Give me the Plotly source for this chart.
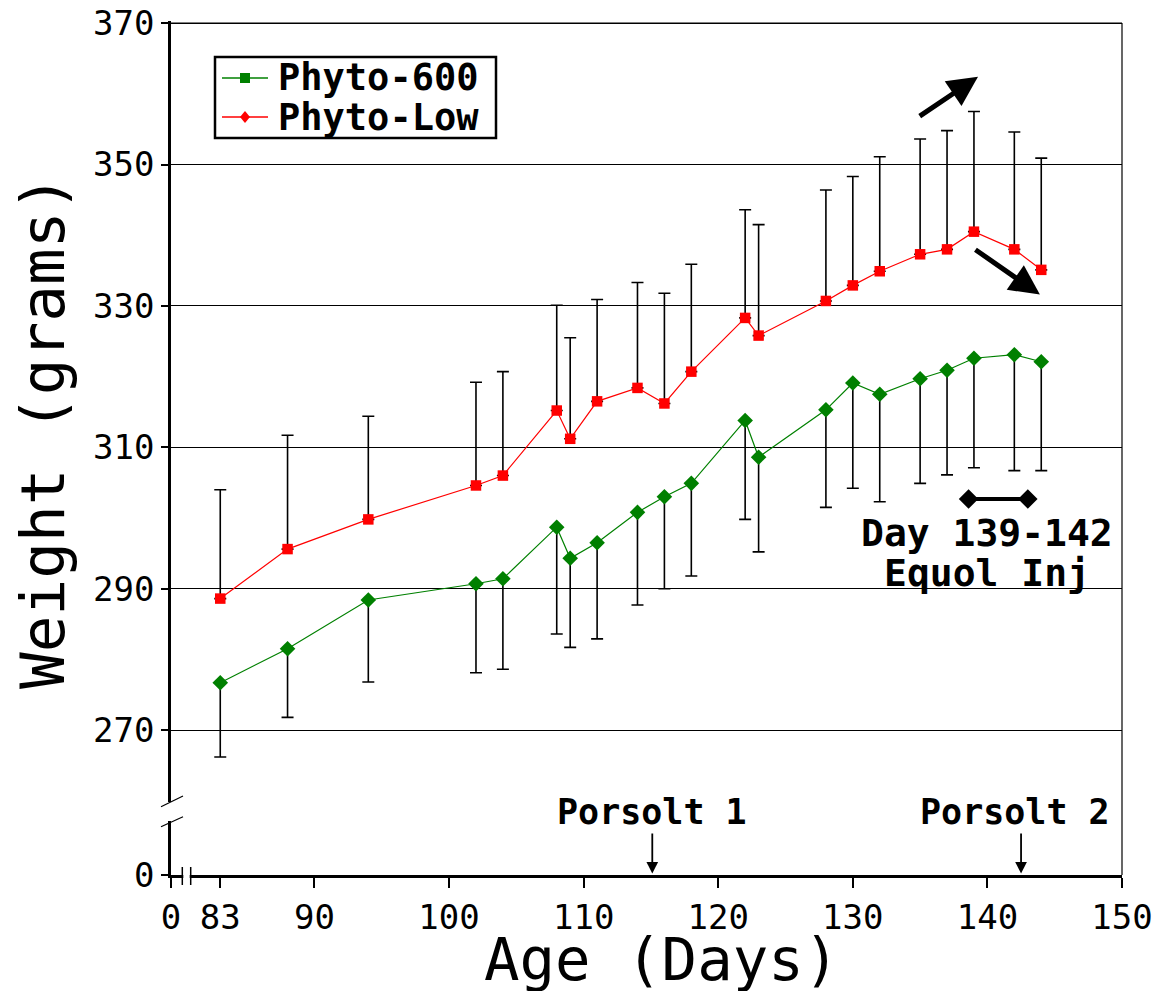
import plotly.graph_objects as go

# ---------------- data ----------------
days = [83, 88, 94, 102, 104, 108, 109, 111, 114, 116, 118, 122, 123,
        128, 130, 132, 135, 137, 139, 142, 144]

phyto_low_mean = [288.6, 295.6, 299.8, 304.6, 306.0, 315.2, 311.2, 316.5, 318.4,
                  316.2, 320.7, 328.3, 325.8, 330.7, 332.9, 334.9, 337.3, 338.0,
                  340.5, 338.0, 335.1]
phyto_low_upper = [304.0, 311.7, 314.4, 319.2, 320.7, 330.1, 325.5, 330.9, 333.3,
                   331.8, 335.9, 343.6, 341.5, 346.4, 348.3, 351.1, 353.6, 354.8,
                   357.5, 354.6, 350.9]

phyto_600_mean = [276.7, 281.5, 288.4, 290.7, 291.4, 298.7, 294.3, 296.5, 300.8,
                  303.0, 304.9, 313.8, 308.6, 315.3, 319.1, 317.5, 319.7, 320.9,
                  322.6, 323.1, 322.1]
phyto_600_lower = [266.2, 271.8, 276.8, 278.1, 278.6, 283.6, 281.7, 282.9, 287.7,
                   290.0, 291.8, 299.8, 295.2, 301.5, 304.2, 302.3, 304.9, 306.1,
                   307.1, 306.7, 306.7]

series_names = ["Phyto-600", "Phyto-Low"]

x_tick_vals = [79.34, 83, 90, 100, 110, 120, 130, 140, 150]
x_tick_text = ["0", "83", "90", "100", "110", "120", "130", "140", "150"]
y_tick_vals = [249.5, 270, 290, 310, 330, 350, 370]
y_tick_text = ["0", "270", "290", "310", "330", "350", "370"]

porsolt_days = [115.1, 142.5]
porsolt_labels = ["Porsolt 1", "Porsolt 2"]
porsolt_label_days = [115.1, 142.05]

equol_bar_days = [138.6, 143.0]
equol_bar_level = 302.7

# ---------------- layout helpers ----------------
# page body has an 8px margin, so figure coords = screenshot coords - 8
W, H = 1164, 991
L, R, T, B = 163, 50, 13, 124
X_RANGE = [79.34, 150]
Y_RANGE = [249.5, 370.3]
PLOT_LEFT_S, PLOT_BOTTOM_S = 171, 875  # plot area corners in screenshot px


def px(x):
    return (x - PLOT_LEFT_S) / (W - L - R)


def py(y):
    return (PLOT_BOTTOM_S - y) / (H - T - B)


MONO = "DejaVu Sans Mono"
GREEN = "#008000"
RED = "#ff0000"

fig = go.Figure()

# red series (squares, error bars up)
fig.add_trace(go.Scatter(
    x=days, y=phyto_low_mean, mode="lines+markers", name=series_names[1],
    showlegend=False,
    line=dict(color=RED, width=1.2),
    marker=dict(symbol="square", size=10.5, color=RED),
    error_y=dict(type="data", symmetric=False,
                 array=[u - m for u, m in zip(phyto_low_upper, phyto_low_mean)],
                 arrayminus=[0] * len(days),
                 color="black", thickness=1.6, width=6),
))

# green series (diamonds, error bars down)
fig.add_trace(go.Scatter(
    x=days, y=phyto_600_mean, mode="lines+markers", name=series_names[0],
    showlegend=False,
    line=dict(color=GREEN, width=1.2),
    marker=dict(symbol="diamond", size=12, color=GREEN),
    error_y=dict(type="data", symmetric=False,
                 array=[0] * len(days),
                 arrayminus=[m - l for m, l in zip(phyto_600_mean, phyto_600_lower)],
                 color="black", thickness=1.6, width=6),
))

# Equol injection bar
fig.add_trace(go.Scatter(
    x=equol_bar_days, y=[equol_bar_level] * 2, mode="lines+markers",
    showlegend=False, hoverinfo="skip",
    line=dict(color="black", width=4),
    marker=dict(symbol="diamond", size=15, color="black"),
))

annotations = []
# Porsolt labels and arrows
for d, ld, lab in zip(porsolt_days, porsolt_label_days, porsolt_labels):
    annotations.append(dict(
        x=ld, y=258.4, xref="x", yref="y", text=lab, showarrow=False,
        font=dict(family=MONO, size=35, color="black", weight="bold"),
        xanchor="center", yanchor="middle"))
    annotations.append(dict(
        x=d, y=249.7, xref="x", yref="y", ax=d, ay=255.6, axref="x", ayref="y",
        text="", showarrow=True, arrowhead=2, arrowsize=1.3, arrowwidth=1.8,
        arrowcolor="black", standoff=0))

# Thick trend arrows
annotations.append(dict(
    x=139.3, y=362.4, ax=134.86, ay=356.7, xref="x", yref="y", axref="x", ayref="y",
    text="", showarrow=True, arrowhead=2, arrowsize=1.2, arrowwidth=5,
    arrowcolor="black", standoff=0))
annotations.append(dict(
    x=143.9, y=331.6, ax=139.0, ay=338.1, xref="x", yref="y", axref="x", ayref="y",
    text="", showarrow=True, arrowhead=2, arrowsize=1.2, arrowwidth=5,
    arrowcolor="black", standoff=0))

# Equol text
annotations.append(dict(
    x=139.97, y=297.9, xref="x", yref="y", text="Day 139-142", showarrow=False,
    font=dict(family=MONO, size=38, color="black", weight="bold"),
    xanchor="center", yanchor="middle"))
annotations.append(dict(
    x=139.97, y=292.2, xref="x", yref="y", text="Equol Inj", showarrow=False,
    font=dict(family=MONO, size=38, color="black", weight="bold"),
    xanchor="center", yanchor="middle"))

# Axis titles
annotations.append(dict(
    x=px(661), y=py(959), xref="paper", yref="paper", text="Age (Days)",
    showarrow=False, font=dict(family=MONO, size=59, color="black"),
    xanchor="center", yanchor="middle", borderpad=0))
annotations.append(dict(
    x=px(42), y=py(432), xref="paper", yref="paper", text="Weight (grams)",
    showarrow=False, textangle=-90, font=dict(family=MONO, size=61, color="black"),
    xanchor="center", yanchor="middle"))

# Legend (drawn as in the reference: green square / red diamond)
leg_rows = [78, 117]
leg_colors = [GREEN, RED]
for row, name in zip(leg_rows, series_names):
    annotations.append(dict(
        x=px(276), y=py(row), xref="paper", yref="paper", text=name,
        showarrow=False, font=dict(family=MONO, size=37, color="black", weight="bold"),
        xanchor="left", yanchor="middle"))

shapes = [
    # top grid line at 370
    dict(type="line", xref="paper", yref="y", x0=0, x1=1, y0=370, y1=370,
         line=dict(color="black", width=1.2), layer="below"),
    # legend box
    dict(type="rect", xref="paper", yref="paper", x0=px(215), x1=px(496),
         y0=py(138), y1=py(57), fillcolor="white",
         line=dict(color="black", width=2.5), layer="above"),
]
for row, c in zip(leg_rows, leg_colors):
    shapes.append(dict(type="line", xref="paper", yref="paper",
                       x0=px(222), x1=px(268), y0=py(row), y1=py(row),
                       line=dict(color=c, width=1.5), layer="above"))
# legend markers: square for first row, diamond for second row
shapes.append(dict(type="rect", xref="paper", yref="paper",
                   x0=px(240), x1=px(250), y0=py(leg_rows[0] + 5), y1=py(leg_rows[0] - 5),
                   fillcolor=GREEN, line=dict(width=0), layer="above"))
r2 = leg_rows[1]
shapes.append(dict(type="path", xref="paper", yref="paper",
                   path=(f"M {px(245)} {py(r2 - 6)} L {px(250)} {py(r2)} "
                         f"L {px(245)} {py(r2 + 6)} L {px(240)} {py(r2)} Z"),
                   fillcolor=RED, line=dict(width=0), layer="above"))

shapes += [
    # right frame line
    dict(type="line", xref="paper", yref="paper", x0=1, x1=1, y0=0, y1=py(23),
         line=dict(color="black", width=1.2), layer="above"),
    # y axis break gap
    dict(type="rect", xref="paper", yref="paper", x0=px(164), x1=px(178),
         y0=py(821), y1=py(802), fillcolor="white", line=dict(width=0),
         layer="above"),
    dict(type="line", xref="paper", yref="paper", x0=px(161), y0=py(806.7),
         x1=px(183), y1=py(796), line=dict(color="black", width=1.2),
         layer="above"),
    dict(type="line", xref="paper", yref="paper", x0=px(161), y0=py(826.7),
         x1=px(183), y1=py(816.7), line=dict(color="black", width=1.2),
         layer="above"),
    # x axis break gap
    dict(type="rect", xref="paper", yref="paper", x0=px(183.3), x1=px(189.7),
         y0=py(879), y1=py(871), fillcolor="white", line=dict(width=0),
         layer="above"),
    dict(type="line", xref="paper", yref="paper", x0=px(182.3), x1=px(182.3),
         y0=py(885), y1=py(867), line=dict(color="black", width=1.5),
         layer="above"),
    dict(type="line", xref="paper", yref="paper", x0=px(190.7), x1=px(190.7),
         y0=py(885), y1=py(867), line=dict(color="black", width=1.5),
         layer="above"),
]

fig.update_layout(
    width=W, height=H,
    margin=dict(l=L, r=R, t=T, b=B, pad=0, autoexpand=False),
    paper_bgcolor="white", plot_bgcolor="white",
    font=dict(family=MONO, color="black"),
    showlegend=False,
    xaxis=dict(range=X_RANGE, tickmode="array", tickvals=x_tick_vals,
               ticktext=x_tick_text, showgrid=False, zeroline=False,
               showline=True, linecolor="black", linewidth=2.5,
               ticks="outside", ticklen=10, tickwidth=1.5, tickcolor="black",
               tickfont=dict(family=MONO, size=34, color="black"),
               ticklabeloverflow="allow", automargin=False),
    yaxis=dict(range=Y_RANGE, tickmode="array", tickvals=y_tick_vals,
               ticktext=y_tick_text, showgrid=True, gridcolor="black",
               gridwidth=1.2, zeroline=False,
               showline=True, linecolor="black", linewidth=2.5,
               ticks="outside", ticklen=7, tickwidth=1.5, tickcolor="black",
               tickfont=dict(family=MONO, size=34, color="black"),
               ticklabeloverflow="allow", automargin=False),
    annotations=annotations,
    shapes=shapes,
)

fig.write_html("out.html")
